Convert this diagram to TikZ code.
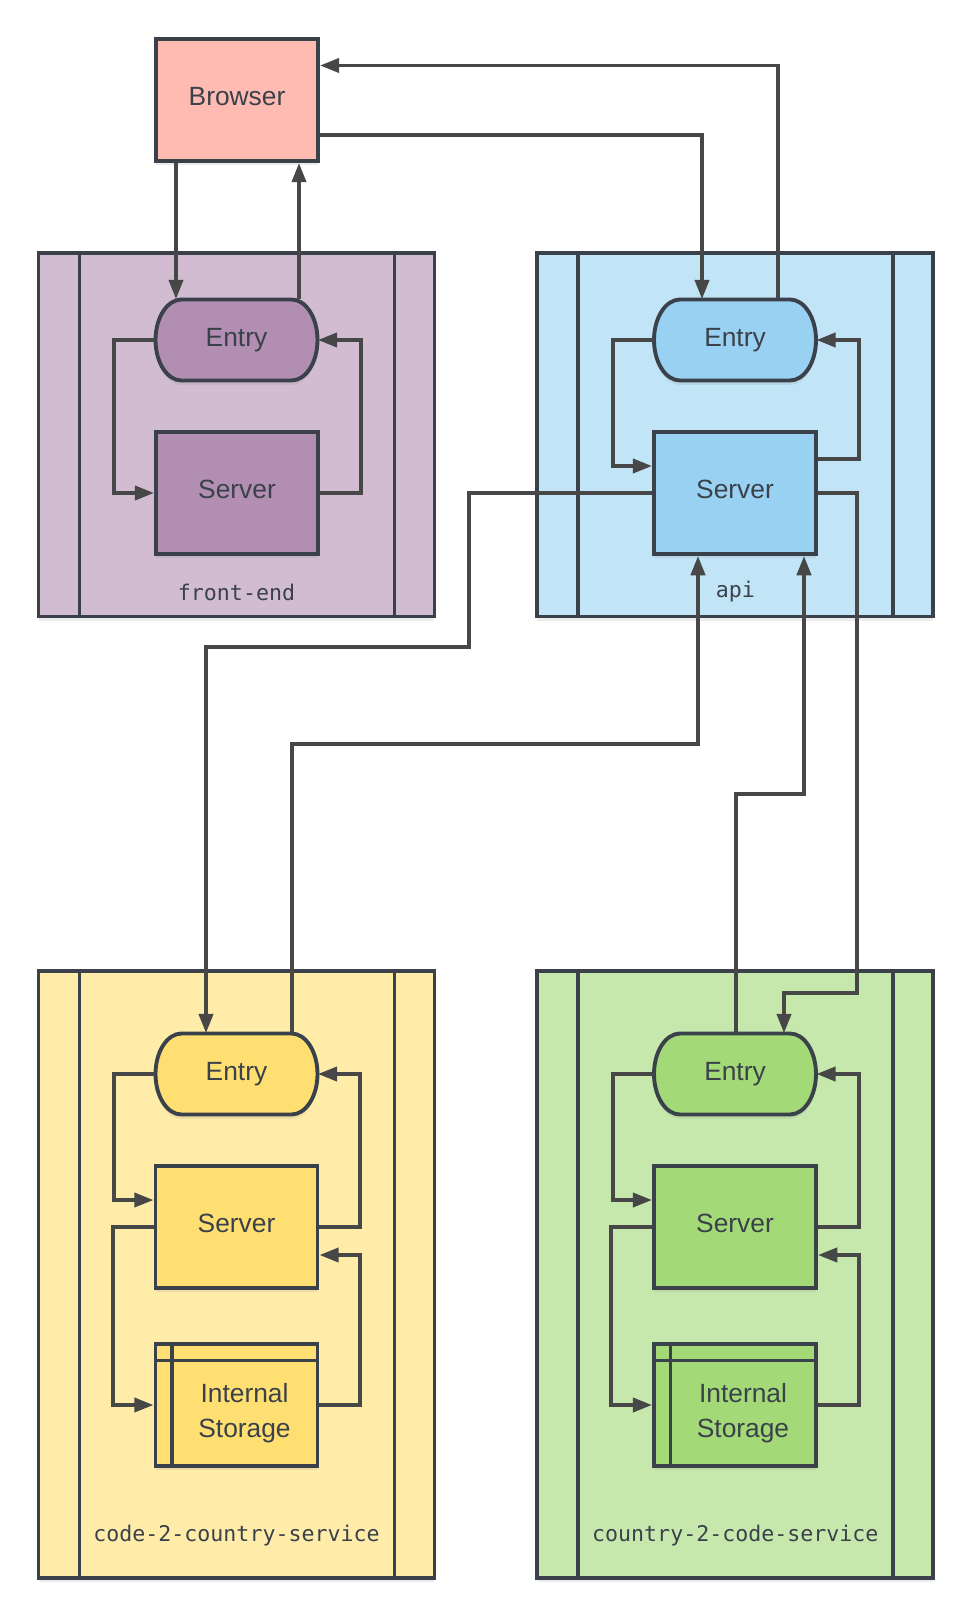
\documentclass[tikz,border=0pt]{standalone}
\usepackage{fontspec}
\setmainfont{Liberation Sans}
\setmonofont{DejaVu Sans Mono}
\usetikzlibrary{arrows.meta,shadows,calc}
\definecolor{edge}{HTML}{3A414A}
\definecolor{wirec}{HTML}{474747}
\definecolor{browserfill}{HTML}{FFBBB1}
\definecolor{feback}{HTML}{D1BCD2}
\definecolor{fefront}{HTML}{B28FB2}
\definecolor{apiback}{HTML}{C1E4F7}
\definecolor{apifront}{HTML}{99D1F2}
\definecolor{cnback}{HTML}{FFECA9}
\definecolor{cnfront}{HTML}{FFDF71}
\definecolor{ncback}{HTML}{C7E8AC}
\definecolor{ncfront}{HTML}{A3D977}
\tikzset{>={Triangle[length=11pt,width=8pt]}}
\tikzset{
  shade/.style={drop shadow={shadow xshift=0pt,shadow yshift=-2.5pt,opacity=0.15}},
  label font/.style={text=edge,font=\fontsize{15}{20}\selectfont},
  box/.style={shade,draw=edge,line width=2.2pt,minimum width=3.24cm,minimum height=2.44cm,
    label font,text depth=0.4em},
  entrybox/.style={minimum width=3.24cm,minimum height=1.62cm,label font},
  entryline/.style={shade,draw=edge,line width=2.2pt},
  storebox/.style={box,path picture={
    \draw[draw=edge,line width=2.2pt]
      ([xshift=0.33cm]path picture bounding box.north west) -- ([xshift=0.33cm]path picture bounding box.south west)
      ([yshift=-0.33cm]path picture bounding box.north west) -- ([yshift=-0.33cm]path picture bounding box.north east);}},
  storetext/.style={label font,align=center},
  service/.style={shade,draw=edge,line width=2.2pt,minimum width=7.92cm,path picture={
    \draw[draw=edge,line width=2.2pt]
      ([xshift=0.82cm]path picture bounding box.north west) -- ([xshift=0.82cm]path picture bounding box.south west)
      ([xshift=-0.8cm]path picture bounding box.north east) -- ([xshift=-0.8cm]path picture bounding box.south east);}},
  tag/.style={text=edge,font=\ttfamily\fontsize{12.3}{14}\selectfont},
  wire/.style={draw=wirec,line width=2.2pt,->}
}
% entry: outline with elliptic ends, then the named node on top
\newcommand\entrynode[3]{%
  \draw[entryline,fill=#3] ($(#2)+(-55,-40.5)$) -- ($(#2)+(55,-40.5)$)
    arc[start angle=90,end angle=-90,x radius=0.52cm,y radius=0.81cm]
    -- ($(#2)+(-55,40.5)$)
    arc[start angle=270,end angle=90,x radius=0.52cm,y radius=0.81cm] -- cycle;
  \node[entrybox] (#1) at (#2) {Entry};}

\begin{document}
\begin{tikzpicture}[x=0.02cm,y=-0.02cm]
\useasboundingbox (0,0) rectangle (973,1618);
% services:
 \node[service,fill=feback,minimum height=7.27cm] (fe) at (236.5,434.75) {};
 \node[service,fill=apiback,minimum height=7.27cm] (api) at (735.3,434.75) {};
 \node[service,fill=cnback,minimum height=12.14cm] (cn) at (236.5,1274.5) {};
 \node[service,fill=ncback,minimum height=12.14cm] (nc) at (735.3,1274.5) {};
 \node[tag] (fetag) at (236.5,592) {front-end};
 \node[tag] (apitag) at (735.3,592) {api};
 \node[tag] (cntag) at (236.5,1536) {code-2-country-service};
 \node[tag] (nctag) at (735.3,1536) {country-2-code-service};
% browser:
 \node[box,fill=browserfill] (browser) at (237,100) {Browser};
% front-end:
 \entrynode{feentry}{236.5,340}{fefront}
 \node[box,fill=fefront] (feserver) at (237,493) {Server};
% api:
 \entrynode{apientry}{735,340}{apifront}
 \node[box,fill=apifront] (apiserver) at (735,493) {Server};
% code-2-country:
 \entrynode{cnentry}{236.5,1074}{cnfront}
 \node[box,fill=cnfront] (cnserver) at (236.5,1227) {Server};
 \node[storebox,fill=cnfront] (cnstore) at (236.5,1405) {};
 \node[storetext] (cnstoretext) at ([xshift=0.16cm,yshift=-0.17cm]cnstore.center) {Internal\\Storage};
% country-2-code:
 \entrynode{ncentry}{735,1074}{ncfront}
 \node[box,fill=ncfront] (ncserver) at (735,1227) {Server};
 \node[storebox,fill=ncfront] (ncstore) at (735,1405) {};
 \node[storetext] (ncstoretext) at ([xshift=0.16cm,yshift=-0.17cm]ncstore.center) {Internal\\Storage};
%% wires:
 \draw[wire] (browser.south -| 176,0) -- (feentry.north -| 176,0);
 \draw[wire] (feentry.north -| 299,0) -- (browser.south -| 299,0);
 \draw[wire] (browser.east |- 0,135) -| (apientry.north -| 702,0);
 \draw[wire] (apientry.north -| 778,0) |- (browser.east |- 0,65.5);
 \draw[wire] (feentry.west) -- ++(-41,0) |- (feserver.west);
 \draw[wire] (feserver.east) -- ++(41,0) |- (feentry.east);
 \draw[wire] (apientry.west) -- ++(-41,0) |- ([yshift=0.54cm]apiserver.west);
 \draw[wire] ([yshift=0.68cm]apiserver.east) -- ++(41,0) |- (apientry.east);
 \draw[wire] (apiserver.west) -| (469,647) -| (cnentry.north -| 206,0);
 \draw[wire] (cnentry.north -| 292,0) |- (698,744) -- (apiserver.south -| 698,0);
 \draw[wire] (ncentry.north -| 736,0) |- (804,794) -- (apiserver.south -| 804,0);
 \draw[wire] (apiserver.east) -| (857,993) -| (ncentry.north -| 784,0);
% inner loops:
 \draw[wire] (cnentry.west) -- ++(-41,0) |- ([yshift=0.54cm]cnserver.west);
 \draw[wire] (cnserver.west) -- ++(-41,0) |- (cnstore.west);
 \draw[wire] (cnstore.east) -- ++(41,0) |- ([yshift=-0.56cm]cnserver.east);
 \draw[wire] (cnserver.east) -- ++(41,0) |- (cnentry.east);
 \draw[wire] (ncentry.west) -- ++(-41,0) |- ([yshift=0.54cm]ncserver.west);
 \draw[wire] (ncserver.west) -- ++(-41,0) |- (ncstore.west);
 \draw[wire] (ncstore.east) -- ++(41,0) |- ([yshift=-0.56cm]ncserver.east);
 \draw[wire] (ncserver.east) -- ++(41,0) |- (ncentry.east);
\end{tikzpicture}
\end{document}
